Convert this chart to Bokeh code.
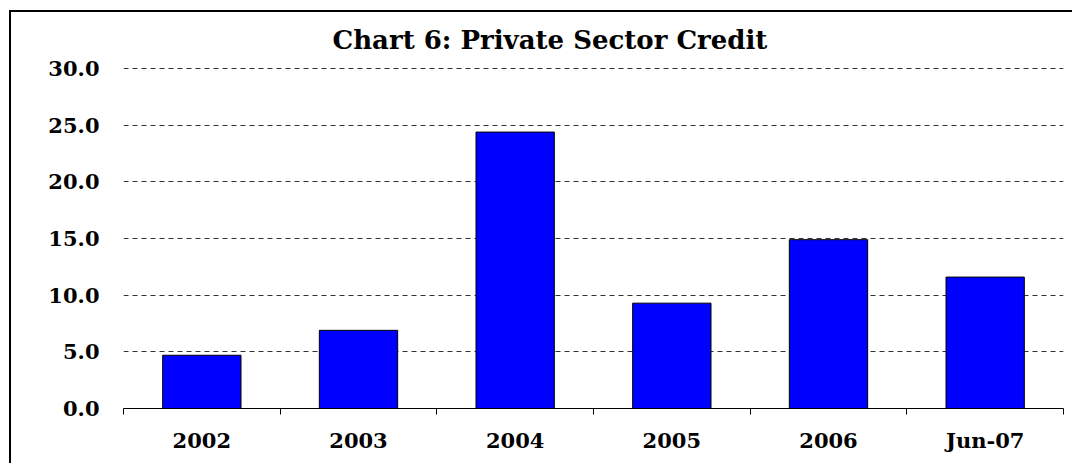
from bokeh.plotting import figure
from bokeh.models import Range1d, FixedTicker, NumeralTickFormatter, Title
from bokeh.embed import file_html
from bokeh.resources import INLINE

# Annual growth of private sector credit (%)
categories = ["2002", "2003", "2004", "2005", "2006", "Jun-07"]
credit_growth = [4.7, 6.9, 24.4, 9.3, 14.9, 11.6]
y_ticks = [0, 5, 10, 15, 20, 25, 30]

FONT = "DejaVu Serif"

p = figure(
    width=1063, height=453,
    output_backend="svg", toolbar_location=None,
    x_range=Range1d(0, len(categories)), y_range=Range1d(0, 30.1),
    min_border_left=112, min_border_right=11,
    min_border_top=55, min_border_bottom=57,
    outline_line_color=None,
    margin=(10, 0, 0, 9),
    styles={"border-top": "2px solid #000", "border-left": "2px solid #000"},
)

p.add_layout(Title(text="Chart 6: Private Sector Credit", align="left", offset=209,
                   standoff=22, vertical_align="top",
                   text_font=FONT, text_font_style="bold", text_font_size="26px",
                   text_color="#000"), "above")

# bars sit in the middle of each category slot
centers = [i + 0.5 for i in range(len(categories))]
p.vbar(x=centers, top=credit_growth, width=0.5, bottom=0,
       fill_color="#0000FF", line_color="#000000", line_width=1)

# x axis: labels at slot centres, tick marks at slot boundaries
xa = p.xaxis[0]
xa.ticker = FixedTicker(ticks=centers, minor_ticks=list(range(len(categories) + 1)))
xa.major_label_overrides = {c: lab for c, lab in zip(centers, categories)}
xa.major_tick_out = 0
xa.major_tick_in = 0
xa.minor_tick_out = 6
xa.minor_tick_in = 0
xa.minor_tick_line_color = "#000"
xa.axis_line_color = "#000"
xa.axis_line_width = 1
xa.major_label_standoff = 13
xa.major_label_text_font = FONT
xa.major_label_text_font_style = "bold"
xa.major_label_text_font_size = "21px"
xa.major_label_text_color = "#000"

ya = p.yaxis[0]
ya.ticker = FixedTicker(ticks=y_ticks)
ya.formatter = NumeralTickFormatter(format="0.0")
ya.axis_line_color = None
ya.major_tick_line_color = None
ya.minor_tick_line_color = None
ya.major_tick_out = 0
ya.major_tick_in = 0
ya.major_label_standoff = 24
ya.major_label_text_font = FONT
ya.major_label_text_font_style = "bold"
ya.major_label_text_font_size = "21px"
ya.major_label_text_color = "#000"

p.xgrid.grid_line_color = None
p.ygrid.grid_line_color = "#333333"
p.ygrid.grid_line_dash = "5 4"
p.ygrid.grid_line_width = 1

p.background_fill_color = "white"
p.border_fill_color = "white"

open("out.html", "w").write(file_html(p, INLINE))
